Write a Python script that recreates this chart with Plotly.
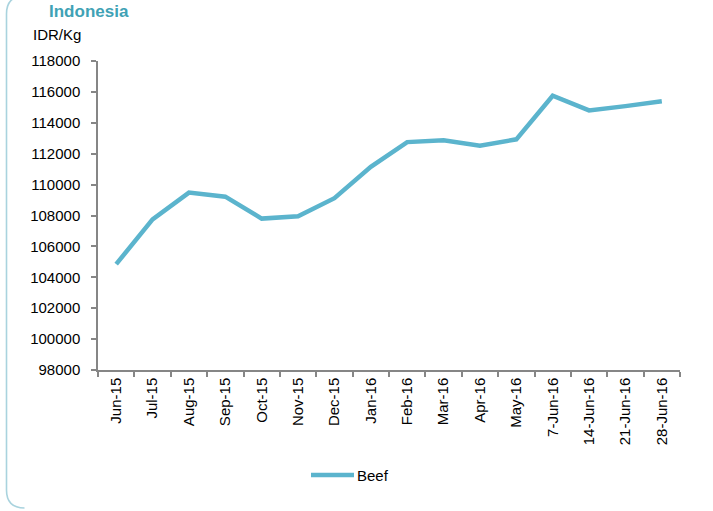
import plotly.graph_objects as go

# Weekly/monthly beef retail price, Indonesia (IDR per kg)
periods = ["Jun-15", "Jul-15", "Aug-15", "Sep-15", "Oct-15", "Nov-15", "Dec-15",
           "Jan-16", "Feb-16", "Mar-16", "Apr-16", "May-16",
           "7-Jun-16", "14-Jun-16", "21-Jun-16", "28-Jun-16"]
beef = [104850, 107750, 109480, 109220, 107800, 107950, 109120,
        111150, 112750, 112870, 112520, 112930,
        115750, 114800, 115080, 115400]
y_ticks = list(range(98000, 118001, 2000))

W, H = 713, 511
L, R, T, B = 98, 680, 61, 370  # plot area in pixels
LINE_COLOR = "#5BB4CD"
FONT = "Liberation Sans, Arial"


def px(x):
    return (x - L) / (R - L)


def py(y):
    return (B - y) / (B - T)


fig = go.Figure()
fig.add_trace(go.Scatter(
    x=periods, y=beef, mode="lines", name="Beef",
    line=dict(color=LINE_COLOR, width=4.5), showlegend=False,
))

# rounded frame around the panel
x0, y0, y1, r = 6.5, -4, 508, 18
frame = (f"M {px(x0)},{py(y0 + r)} L {px(x0)},{py(y1 - r)} "
         f"Q {px(x0)},{py(y1)} {px(x0 + r)},{py(y1)} "
         f"M {px(x0)},{py(y0 + r)} Q {px(x0)},{py(y0)} {px(x0 + r)},{py(y0)}")
fig.add_shape(type="path", path=frame, xref="paper", yref="paper",
              line=dict(color="#A9D3DE", width=1.6), layer="below")

# panel title
fig.add_annotation(text="<b>Indonesia</b>", x=px(47), y=py(0), xref="paper", yref="paper",
                   xanchor="left", yanchor="top", showarrow=False,
                   font=dict(family=FONT, size=17, color="#3FA2B5"))
# unit label above the value axis
fig.add_annotation(text="IDR/Kg", x=px(57), y=py(34), xref="paper", yref="paper",
                   xanchor="center", yanchor="middle", showarrow=False,
                   font=dict(family=FONT, size=15, color="#000000"))

# legend: line swatch + series name
fig.add_shape(type="line", x0=px(311), x1=px(354), y0=py(475), y1=py(475),
              xref="paper", yref="paper", line=dict(color=LINE_COLOR, width=4.5))
fig.add_annotation(text="Beef", x=px(355), y=py(475), xref="paper", yref="paper",
                   xanchor="left", yanchor="middle", showarrow=False,
                   font=dict(family=FONT, size=15, color="#000000"))

fig.update_layout(
    width=W, height=H,
    margin=dict(l=L, r=W - R, t=T, b=H - B),
    paper_bgcolor="white", plot_bgcolor="white",
    font=dict(family=FONT, size=15, color="#000000"),
    showlegend=False,
)
fig.update_xaxes(
    type="category", range=[-0.5, len(periods) - 0.5],
    tickson="boundaries", ticks="outside", ticklen=5, tickcolor="#868686", tickwidth=1.5,
    showline=True, linecolor="#868686", linewidth=1.5, showgrid=False,
    tickangle=-90, tickfont=dict(size=15),
)
fig.update_yaxes(
    range=[98000, 118000], tickvals=y_ticks, ticktext=[str(v) for v in y_ticks],
    ticks="outside", ticklen=5, tickcolor="#868686", tickwidth=1.5,
    showline=True, linecolor="#868686", linewidth=1.5, showgrid=False, zeroline=False,
    tickfont=dict(size=15), ticklabelstandoff=8,
)

fig.write_html("out.html")
